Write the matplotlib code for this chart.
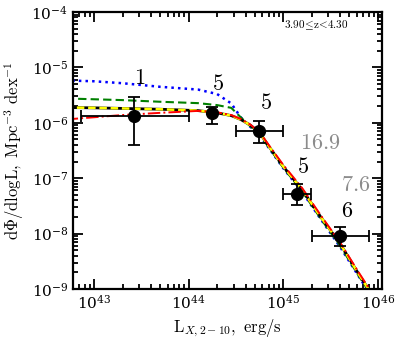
import numpy as np
import matplotlib
matplotlib.use("Agg")
import matplotlib.pyplot as plt
from matplotlib.ticker import LogLocator, NullFormatter

plt.rcParams['mathtext.fontset'] = 'cm'
plt.rcParams['font.family'] = 'serif'
plt.rcParams['font.serif'] = ['DejaVu Serif']

# binned data points
lum = [2.66e43, 1.75e44, 5.56e44, 1.41e45, 4.0e45]
lum_lo = [7.3e42, 1.75e44, 3.15e44, 9.9e44, 2.0e45]
lum_hi = [1.02e44, 1.75e44, 9.87e44, 1.97e45, 8.0e45]
phi = [1.33e-6, 1.53e-6, 7.15e-7, 5.08e-8, 9.1e-9]
phi_lo = [4.0e-7, 9.5e-7, 4.4e-7, 3.27e-8, 6.0e-9]
phi_hi = [2.93e-6, 1.96e-6, 1.1e-6, 7.8e-8, 1.33e-8]
counts = ['1', '5', '5', '5', '6']
count_pos = [(3.05e43, 6.45e-6), (2.02e44, 5.0e-6), (6.55e44, 2.29e-6), (1.62e45, 1.6e-7), (4.74e45, 2.58e-8)]
gray_labels = ['16.9', '7.6']
gray_pos = [(2.45e45, 4.35e-7), (5.78e45, 7.6e-8)]

# model curves (log L, log phi)
logL = [42.7, 43.0, 43.3, 43.7, 44.1, 44.3, 44.45, 44.55, 44.65, 44.75, 44.85,
        45.0, 45.2, 45.4, 45.6, 45.8, 46.05]
blue = [-5.235, -5.25, -5.285, -5.35, -5.40, -5.48, -5.65, -5.90, -6.07, -6.22, -6.46,
        -6.82, -7.25, -7.75, -8.24, -8.78, -9.45]
green = [-5.56, -5.575, -5.59, -5.62, -5.645, -5.68, -5.73, -5.90, -6.06, -6.21, -6.45,
         -6.81, -7.24, -7.74, -8.22, -8.77, -9.43]
yellow = [-5.724, -5.73, -5.74, -5.755, -5.78, -5.82, -5.87, -5.94, -6.04, -6.18, -6.43,
          -6.79, -7.21, -7.71, -8.18, -8.74, -9.40]
red = [-5.94, -5.90, -5.86, -5.82, -5.785, -5.81, -5.86, -5.93, -6.03, -6.17, -6.41,
       -6.76, -7.18, -7.68, -8.16, -8.71, -9.37]

fig = plt.figure(figsize=(3.99, 3.44), dpi=100)
ax = fig.add_axes([0.183, 0.160, 0.774, 0.805])

L = 10 ** np.array(logL)
ax.plot(L, 10 ** np.array(blue), color='blue', ls=':', lw=1.8)
ax.plot(L, 10 ** np.array(green), color='green', ls='--', lw=1.5, dashes=(4, 2))
ax.plot(L, 10 ** np.array(yellow), color='black', ls='-', lw=2.0)
ax.plot(L, 10 ** np.array(yellow), color='yellow', ls='--', lw=1.8, dashes=(3, 1.5))
ax.plot(L, 10 ** np.array(red), color='red', ls='-.', lw=1.4)

lum = np.array(lum)
phi = np.array(phi)
xerr = [lum - np.array(lum_lo), np.array(lum_hi) - lum]
yerr = [phi - np.array(phi_lo), np.array(phi_hi) - phi]
ax.errorbar(lum, phi, xerr=xerr, yerr=yerr, fmt='o', color='black', ms=8.5,
            elinewidth=1.3, capsize=4, capthick=1.3, zorder=5)

for t, (x, y) in zip(counts, count_pos):
    ax.text(x, y, '$' + t + '$', fontsize=16, ha='center', va='center')
for t, (x, y) in zip(gray_labels, gray_pos):
    ax.text(x, y, '$' + t + '$', fontsize=16, ha='center', va='center', color='#8c8c8c')

ax.text(0.893, 0.953, r'$3.90\!\leq\!\mathrm{z}\!<\!4.30$', transform=ax.transAxes,
        fontsize=8, ha='right', va='center')

ax.set_xscale('log')
ax.set_yscale('log')
ax.set_xlim(6e42, 1.1e46)
ax.set_ylim(1e-9, 1e-4)

ax.xaxis.set_major_locator(LogLocator(base=10, numticks=10))
ax.xaxis.set_minor_locator(LogLocator(base=10, subs=np.arange(2, 10), numticks=20))
ax.yaxis.set_major_locator(LogLocator(base=10, numticks=10))
ax.yaxis.set_minor_locator(LogLocator(base=10, subs=np.arange(2, 10), numticks=20))
ax.xaxis.set_minor_formatter(NullFormatter())
ax.yaxis.set_minor_formatter(NullFormatter())
ax.tick_params(which='both', direction='in', top=True, right=True, labelsize=11, width=1.3)
ax.tick_params(which='major', length=7)
ax.tick_params(which='minor', length=3.5)
for s in ax.spines.values():
    s.set_linewidth(1.6)

ax.set_xlabel(r'$\mathrm{L}_{X,2-10}\mathrm{,\ erg/s}$', fontsize=12)
ax.set_ylabel(r'$\mathrm{d\Phi/dlogL,\ Mpc^{-3}\ dex^{-1}}$', fontsize=12)

fig.savefig('out.png', dpi=100)
